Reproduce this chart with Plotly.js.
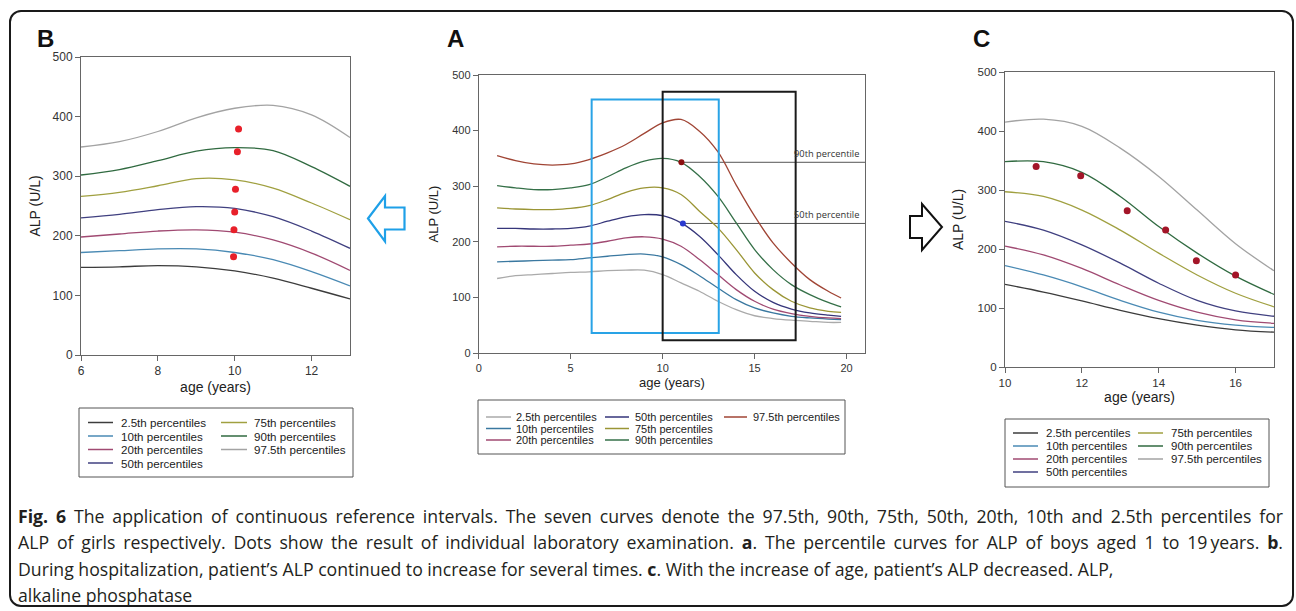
<!DOCTYPE html>
<html>
<head>
<meta charset="utf-8">
<script src="https://cdn.plot.ly/plotly-3.0.1.min.js"></script>
<style>
  html, body { margin:0; padding:0; background:#ffffff; }
  #wrap { position:relative; width:1296px; height:611px; overflow:hidden; }
  #frame { position:absolute; left:9px; top:10px; width:1281px; height:593px; border:2px solid #1a1a1a; border-radius:12px; }
  #plot { position:absolute; left:0; top:0; width:1296px; height:611px; }
  #cap { position:absolute; left:18px; top:503px; width:1265px; font-family:'Open Sans', sans-serif; font-size:18.7px; line-height:26.3px; color:#231f20; }
  #cap div { white-space:nowrap; }
  #cap .j { text-align:justify; text-align-last:justify; }
</style>
</head>
<body>
<div id="wrap">
  <div id="frame"></div>
  <div id="plot"></div>
  <div id="cap">
    <div class="j"><b>Fig. 6</b> The application of continuous reference intervals. The seven curves denote the 97.5th, 90th, 75th, 50th, 20th, 10th and 2.5th percentiles for</div>
    <div class="j">ALP of girls respectively. Dots show the result of individual laboratory examination. <b>a</b>. The percentile curves for ALP of boys aged 1 to 19&#8201;years. <b>b</b>.</div>
    <div><span id="l3">During hospitalization, patient’s ALP continued to increase for several times. <b>c</b>. With the increase of age, patient’s ALP decreased. ALP,</span></div>
    <div>alkaline phosphatase</div>
  </div>
</div>
<script>
// ---------------- DATA ----------------
const percentileNames = ['2.5th percentiles','10th percentiles','20th percentiles','50th percentiles','75th percentiles','90th percentiles','97.5th percentiles'];

// Panel A: boys aged 1 to 19 years
const agesA = [1,2,3,4,5,6,7,8,9,10,11,12,13,14,15,16,17,18,19,19.7];
const alpA_p2_5  = [134,139,141,143,145,146,148,149,149,141,126,111,93,78,67,62,59,57,55,55];
const alpA_p10   = [164,165,166,167,168,171,174,177,178,173,159,139,117,96,81,72,66,63,61,60];
const alpA_p20   = [191,192,192,192,194,196,201,207,209,205,192,168,141,114,93,79,71,66,63,62];
const alpA_p50   = [224,224,223,223,224,228,237,245,249,247,234,210,177,141,111,91,79,72,68,66];
const alpA_p75   = [261,259,258,258,260,265,276,289,297,297,285,255,225,186,144,114,93,81,75,73];
const alpA_p90   = [301,297,294,294,297,303,317,333,345,350,343,318,282,234,186,150,123,105,91,83];
const alpA_p97_5 = [355,346,340,338,340,348,360,375,395,414,420,399,362,302,246,198,162,132,111,99];
const dotsA_age = [11.02, 11.1];
const dotsA_alp = [343, 233];
const dotsA_labels = ['90th percentile', '50th percentile'];
// zoom windows drawn on panel A [ageFrom, ageTo, alpFrom, alpTo]
const windowB = [6.14, 13.05, 36, 456];
const windowC = [10.0, 17.23, 23, 470];

// Panel B: ages 6 to 13
const agesB = [6,7,8,9,10,11,12,13];
const alpB_p2_5  = [147,148,150,148,141,129,112,94];
const alpB_p10   = [172,175,178,178,172,160,140,116];
const alpB_p20   = [198,203,208,210,206,193,171,142];
const alpB_p50   = [230,236,244,249,246,232,208,179];
const alpB_p75   = [266,273,284,296,294,280,255,227];
const alpB_p90   = [302,311,326,342,348,343,316,283];
const alpB_p97_5 = [349,358,375,398,414,419,403,365];
const dotsB_age = [10.10, 10.07, 10.02, 10.0, 9.98, 9.97];
const dotsB_alp = [379, 341, 278, 240, 210, 165];

// Panel C: ages 10 to 17
const agesC = [10,11,12,13,14,15,16,17];
const alpC_p2_5  = [140,127,112,96,82,71,63,59];
const alpC_p10   = [172,156,136,113,93,79,71,67];
const alpC_p20   = [205,190,167,139,113,93,80,74];
const alpC_p50   = [247,232,207,176,142,113,95,86];
const alpC_p75   = [297,289,266,232,193,156,125,102];
const alpC_p90   = [348,348,330,289,238,193,154,123];
const alpC_p97_5 = [415,420,408,371,323,266,209,163];
const dotsC_age = [10.81, 11.97, 13.18, 14.18, 14.98, 16.0];
const dotsC_alp = [340, 324, 265, 232, 180, 156];

// ---------------- STYLE ----------------
const W = 1296, H = 611;
const px = v => v / W;
const py = v => 1 - v / H;
const colorsA  = ['#aaaaaa','#3a78a0','#a04a72','#35357a','#9a9535','#357048','#a04535'];
const colorsBC = ['#3c3c3c','#4a8ab4','#a04a72','#404080','#a0a040','#306a40','#a3a3a3'];
const seriesA = [alpA_p2_5, alpA_p10, alpA_p20, alpA_p50, alpA_p75, alpA_p90, alpA_p97_5];
const seriesB = [alpB_p2_5, alpB_p10, alpB_p20, alpB_p50, alpB_p75, alpB_p90, alpB_p97_5];
const seriesC = [alpC_p2_5, alpC_p10, alpC_p20, alpC_p50, alpC_p75, alpC_p90, alpC_p97_5];

// fit the non-justified caption line to the reference width
(function fitCaption() {
  const l3 = document.getElementById('l3');
  const w = l3.getBoundingClientRect().width;
  if (w > 0) {
    const cap = document.getElementById('cap');
    const fs = parseFloat(getComputedStyle(cap).fontSize);
    cap.style.fontSize = Math.min(20, Math.max(15, fs * 1095 / w)).toFixed(2) + 'px';
  }
})();

const traces = [];
function addCurves(ages, series, colors, xa, ya) {
  series.forEach((s, i) => traces.push({
    x: ages, y: s, xaxis: xa, yaxis: ya, type: 'scatter', mode: 'lines',
    name: percentileNames[i], showlegend: false, hoverinfo: 'x+y+name',
    line: { color: colors[i], width: 1.3, shape: 'spline', smoothing: 1 }
  }));
}
addCurves(agesB, seriesB, colorsBC, 'x', 'y');
addCurves(agesA, seriesA, colorsA, 'x2', 'y2');
addCurves(agesC, seriesC, colorsBC, 'x3', 'y3');

traces.push({ x: dotsB_age, y: dotsB_alp, xaxis: 'x', yaxis: 'y', type: 'scatter', mode: 'markers',
  name: 'patient', showlegend: false, marker: { color: '#e8202a', size: 7 } });
traces.push({ x: dotsA_age, y: dotsA_alp, xaxis: 'x2', yaxis: 'y2', type: 'scatter', mode: 'markers',
  name: 'patient', showlegend: false, marker: { color: ['#8b1010', '#2a3ad0'], size: 6 } });
traces.push({ x: dotsC_age, y: dotsC_alp, xaxis: 'x3', yaxis: 'y3', type: 'scatter', mode: 'markers',
  name: 'patient', showlegend: false, marker: { color: '#a31528', size: 7 } });

const tickFont = s => ({ family: 'Liberation Sans, Arial, sans-serif', size: s, color: '#333' });
const titleFont = s => ({ family: 'Liberation Sans, Arial, sans-serif', size: s, color: '#222' });
function axis(extra) {
  return Object.assign({
    showline: true, linecolor: '#666', linewidth: 1, mirror: true,
    ticks: 'outside', ticklen: 5, tickcolor: '#666', tickwidth: 1,
    showgrid: false, zeroline: false, automargin: false, fixedrange: true
  }, extra);
}

const layout = {
  width: W, height: H,
  margin: { l: 0, r: 0, t: 0, b: 0 },
  paper_bgcolor: 'rgba(0,0,0,0)', plot_bgcolor: 'rgba(0,0,0,0)',
  showlegend: false,
  xaxis:  axis({ domain: [px(81), px(350)], range: [6, 13], tick0: 6, dtick: 2, anchor: 'y', tickfont: tickFont(12),
                 title: { text: 'age (years)', font: titleFont(14), standoff: 4 } }),
  yaxis:  axis({ domain: [py(355), py(57)], range: [0, 500], dtick: 100, anchor: 'x', tickfont: tickFont(12),
                 title: { text: 'ALP (U/L)', font: titleFont(14), standoff: 8 } }),
  xaxis2: axis({ domain: [px(478.7), px(865)], range: [0, 21], tick0: 0, dtick: 5, anchor: 'y2', tickfont: tickFont(11),
                 title: { text: 'age (years)', font: titleFont(13), standoff: 4 } }),
  yaxis2: axis({ domain: [py(353), py(75)], range: [0, 500], dtick: 100, anchor: 'x2', tickfont: tickFont(11),
                 title: { text: 'ALP (U/L)', font: titleFont(13), standoff: 10 } }),
  xaxis3: axis({ domain: [px(1005), px(1274)], range: [10, 17], tick0: 10, dtick: 2, anchor: 'y3', tickfont: tickFont(11.5),
                 title: { text: 'age (years)', font: titleFont(14), standoff: 4 } }),
  yaxis3: axis({ domain: [py(367), py(72)], range: [0, 500], dtick: 100, anchor: 'x3', tickfont: tickFont(11.5),
                 title: { text: 'ALP (U/L)', font: titleFont(14), standoff: 10 } }),
  shapes: [], annotations: []
};

// zoom windows on panel A
layout.shapes.push({ type: 'rect', xref: 'x2', yref: 'y2', x0: windowB[0], x1: windowB[1], y0: windowB[2], y1: windowB[3],
  line: { color: '#29a3e6', width: 2 } });
layout.shapes.push({ type: 'rect', xref: 'x2', yref: 'y2', x0: windowC[0], x1: windowC[1], y0: windowC[2], y1: windowC[3],
  line: { color: '#1a1a1a', width: 2 } });
// reference lines from the dots in panel A
dotsA_age.forEach((a, i) => {
  layout.shapes.push({ type: 'line', xref: 'x2', yref: 'y2', x0: a, x1: 21, y0: dotsA_alp[i], y1: dotsA_alp[i],
    line: { color: '#555', width: 1 }, layer: 'below' });
  layout.annotations.push({ xref: 'x2', yref: 'y2', x: 20.8, y: dotsA_alp[i], xanchor: 'right', yanchor: 'bottom',
    yshift: 0, showarrow: false, text: dotsA_labels[i],
    font: { family: 'Open Sans, sans-serif', size: 9.3, color: '#333' } });
});

// arrows
function pathFromPx(pts) {
  return 'M ' + pts.map(p => px(p[0]).toFixed(5) + ',' + py(p[1]).toFixed(5)).join(' L ') + ' Z';
}
layout.shapes.push({ type: 'path', xref: 'paper', yref: 'paper',
  path: pathFromPx([[368,218.5],[385,196],[385,207.5],[404.5,207.5],[404.5,229.5],[385,229.5],[385,241.5]]),
  line: { color: '#1ea0e8', width: 2.2 } });
layout.shapes.push({ type: 'path', xref: 'paper', yref: 'paper',
  path: pathFromPx([[910,216],[922,216],[922,204],[942,227],[922,250],[922,238],[910,238]]),
  line: { color: '#111', width: 2 } });

// panel letters
[['B', 45, 38], ['A', 455, 38], ['C', 981, 39]].forEach(l => layout.annotations.push({
  xref: 'paper', yref: 'paper', x: px(l[1]), y: py(l[2]), xanchor: 'center', yanchor: 'middle', showarrow: false,
  text: '<b>' + l[0] + '</b>', font: { family: 'Liberation Sans, Arial, sans-serif', size: 24, color: '#111' } }));

// legends (boxes with line samples and labels)
function addLegend(box, columns, rows, colors, fontSize) {
  layout.shapes.push({ type: 'rect', xref: 'paper', yref: 'paper', x0: px(box[0]), x1: px(box[2]), y0: py(box[3]), y1: py(box[1]),
    line: { color: '#555', width: 1 }, fillcolor: 'rgba(0,0,0,0)' });
  columns.forEach(col => {
    col.items.forEach((idx, r) => {
      const yv = rows[r];
      layout.shapes.push({ type: 'line', xref: 'paper', yref: 'paper', x0: px(col.s0), x1: px(col.s1), y0: py(yv), y1: py(yv),
        line: { color: colors[idx], width: 1.5 } });
      layout.annotations.push({ xref: 'paper', yref: 'paper', x: px(col.t), y: py(yv), xanchor: 'left', yanchor: 'middle',
        showarrow: false, text: percentileNames[idx],
        font: { family: 'Liberation Sans, Arial, sans-serif', size: fontSize, color: '#222' } });
    });
  });
}
addLegend([79, 408, 353, 477], [{ items: [0,1,2,3], s0: 88, s1: 113, t: 119 }, { items: [4,5,6], s0: 221, s1: 247, t: 252 }],
  [422.5, 436, 449.5, 463], colorsBC, 11.6);
addLegend([478, 400, 845, 454], [{ items: [0,1,2], s0: 486, s1: 511, t: 514 }, { items: [3,4,5], s0: 605, s1: 629, t: 633 },
  { items: [6], s0: 724, s1: 747, t: 751 }], [417, 428.5, 440], colorsA, 11);
addLegend([1005, 419, 1269, 487], [{ items: [0,1,2,3], s0: 1013, s1: 1038, t: 1044 }, { items: [4,5,6], s0: 1138, s1: 1163, t: 1169 }],
  [433, 446, 459, 472], colorsBC, 11.5);

Plotly.newPlot('plot', traces, layout, { staticPlot: true, displayModeBar: false });
</script>
</body>
</html>
